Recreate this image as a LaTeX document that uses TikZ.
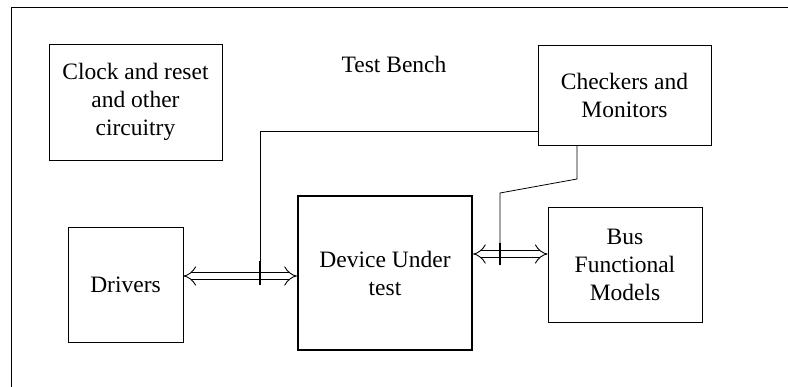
\documentclass[tikz,border=0pt]{standalone}
\usepackage{fontspec}
\setmainfont{Liberation Serif}
\usepackage{tikz}
\usetikzlibrary{positioning,arrows.meta,calc}

\tikzset{
  blk/.style={draw, line width=0.9pt, align=center, inner sep=2pt,
              font=\fontsize{23.5}{28}\selectfont},
  dutblk/.style={blk, line width=2.2pt},
  bus/.style={line width=0.9pt, double=white, double distance=6pt,
              {Implies[scale=1.6]}-{Implies[scale=1.6]}},
  wire/.style={line width=0.8pt}
}

\begin{document}
\begin{tikzpicture}[x=1pt,y=-1pt]
    \useasboundingbox (0,0) rectangle (788,387);
    \draw[line width=0.9pt] (11,395) -- (11,7) -- (795,7);

    \node at (394,64) [font=\fontsize{23.5}{28}\selectfont] (tb) {Test Bench};

    \node[blk, minimum width=173pt, minimum height=116pt] (clk) at (135.5,102) {Clock and reset\\and other\\circuitry};
    \node[blk, minimum width=173pt, minimum height=100pt] (chk) at (624.5,95) {Checkers and\\Monitors};
    \node[blk, minimum width=115pt, minimum height=115pt] (drv) at (125.5,284.5) {Drivers};
    \node[dutblk, minimum width=174pt, minimum height=154pt] (dut) at (385,273) {Device Under\\test};
    \node[blk, minimum width=154pt, minimum height=115pt] (bfm) at (625,264.5) {Bus\\Functional\\Models};

    \draw[bus] (drv.east |- 0,276) -- (dut.west |- 0,276);
    \draw[bus] (dut.east |- 0,254) -- (bfm.west |- 0,254);

    \coordinate (tapa) at (260,285);
    \coordinate (tapb) at (500,265);
    \draw[wire] (chk.west |- 0,131) -| (tapa);
    \draw[wire] (chk.south -| 577,0) -- (577,179) -- (500,193) -- (tapb);
    \draw[line width=1.6pt] (260,261) -- (tapa);
    \draw[line width=1.6pt] (500,243) -- (tapb);
\end{tikzpicture}
\end{document}
